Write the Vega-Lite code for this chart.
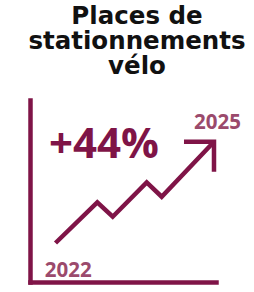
{
  "$schema": "https://vega.github.io/schema/vega-lite/v6.json",
  "autosize": "none",
  "width": 186,
  "height": 182,
  "padding": {"left": 30, "top": 100, "right": 38, "bottom": 10},
  "background": "white",
  "config": {"view": {"stroke": null}},
  "title": {
    "text": ["Places de", "stationnements", "vélo"],
    "font": "DejaVu Sans",
    "fontSize": 24.5,
    "fontWeight": "bold",
    "color": "#111111",
    "lineHeight": 25,
    "anchor": "middle",
    "dx": 14,
    "offset": 21
  },
  "datasets": {
    "trend": [
      {"t": 2022.0, "v": 100.0},
      {"t": 2022.791, "v": 117.68},
      {"t": 2023.083, "v": 111.42},
      {"t": 2023.726, "v": 126.37},
      {"t": 2024.01, "v": 120.11},
      {"t": 2025.0, "v": 144.0}
    ],
    "arrowhead": [
      {"t": 2024.432, "v": 144.0},
      {"t": 2025.0, "v": 144.0},
      {"t": 2025.0, "v": 130.97}
    ],
    "labels": [
      {"kind": "change", "text": "+44%", "t": 2021.877, "v": 136.92},
      {"kind": "year", "text": "2025", "t": 2025.066, "v": 149.52},
      {"kind": "year", "text": "2022", "t": 2022.242, "v": 85.1}
    ]
  },
  "encoding": {
    "x": {
      "field": "t",
      "type": "quantitative",
      "scale": {"domain": [2021.517, 2025.038], "nice": false, "zero": false},
      "axis": {
        "title": null,
        "labels": false,
        "ticks": false,
        "grid": false,
        "domainColor": "#7f1447",
        "domainWidth": 4.5,
        "domainCap": "square"
      }
    },
    "y": {
      "field": "v",
      "type": "quantitative",
      "scale": {"domain": [83.06, 162.12], "nice": false, "zero": false},
      "axis": {
        "title": null,
        "labels": false,
        "ticks": false,
        "grid": false,
        "domainColor": "#7f1447",
        "domainWidth": 4.5,
        "domainCap": "square"
      }
    }
  },
  "layer": [
    {
      "data": {"name": "trend"},
      "mark": {"type": "line", "color": "#7f1447", "strokeWidth": 4.5, "strokeJoin": "miter", "strokeCap": "butt", "clip": false}
    },
    {
      "data": {"name": "arrowhead"},
      "mark": {"type": "line", "color": "#7f1447", "strokeWidth": 4.5, "strokeJoin": "miter", "strokeCap": "butt", "clip": false}
    },
    {
      "data": {"name": "labels"},
      "transform": [{"filter": "datum.kind === 'change'"}],
      "mark": {"type": "text", "font": "Open Sans", "fontWeight": "bold", "fontSize": 42, "color": "#7f1447", "align": "left", "baseline": "alphabetic"},
      "encoding": {"text": {"field": "text"}}
    },
    {
      "data": {"name": "labels"},
      "transform": [{"filter": "datum.kind === 'year'"}],
      "mark": {"type": "text", "font": "Open Sans", "fontWeight": "bold", "fontSize": 20.5, "color": "#9b4a6c", "align": "center", "baseline": "alphabetic"},
      "encoding": {"text": {"field": "text"}}
    }
  ]
}
